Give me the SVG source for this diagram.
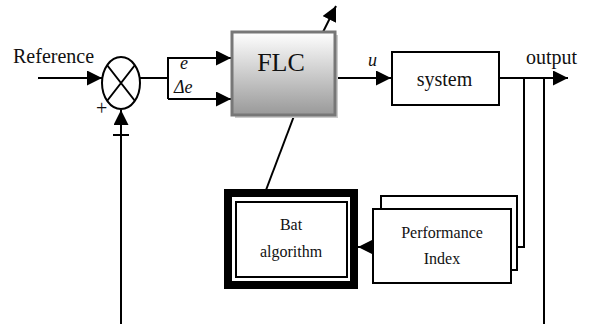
<svg xmlns="http://www.w3.org/2000/svg" width="592" height="324" viewBox="0 0 592 324">
<defs>
<linearGradient id="g" x1="0" y1="0" x2="0" y2="1">
<stop offset="0" stop-color="#ffffff"/>
<stop offset="1" stop-color="#999999"/>
</linearGradient>
<marker id="ar" viewBox="0 0 10 10" refX="10" refY="5" markerWidth="15" markerHeight="15" markerUnits="userSpaceOnUse" orient="auto">
<path d="M0,0 L10,5 L0,10 Z" fill="#000"/>
</marker>
</defs>
<style>
text{font-family:"Liberation Serif","Times New Roman",serif;fill:#111}
.t{font-size:20px}
.s{font-size:16px}
.m{font-size:18px;font-style:italic}
.c{fill:none;stroke:#000;stroke-width:2}
</style>
<rect width="592" height="324" fill="#fff"/>
<g id="connectors">
<path class="c" d="M38,78 H102" marker-end="url(#ar)"/>
<path class="c" d="M140,78 H169" stroke-width="3"/>
<path class="c" d="M168,99 V58 H231" marker-end="url(#ar)"/>
<path class="c" d="M168,99 H231" marker-end="url(#ar)"/>
<path class="c" d="M121,324 V110" marker-end="url(#ar)"/>
<path class="c" d="M113,135 H129"/>
<path class="c" d="M323,32 L336,6" marker-end="url(#ar)"/>
<path class="c" d="M294,116 L266,190"/>
<path class="c" d="M336,78 H391" marker-end="url(#ar)"/>
<path class="c" d="M499,78 H568" marker-end="url(#ar)"/>
<path class="c" d="M524,78 V247 H500" stroke-width="3" marker-end="url(#ar)"/>
<path class="c" d="M544,78 V324"/>
<path class="c" d="M373,247 H358" marker-end="url(#ar)"/>
</g>
<g id="sum">
<ellipse cx="121" cy="83" rx="19" ry="26" fill="#fff" stroke="#000" stroke-width="2"/>
<path d="M107,65 L135,101 M135,65 L107,101" stroke="#000" stroke-width="2"/>
<text x="96" y="115" class="t">+</text>
</g>
<g id="labels">
<text x="13" y="63" class="t">Reference</text>
<text x="180" y="69" class="m">e</text>
<text x="174" y="93" class="m">Δe</text>
<text x="368" y="66" class="m">u</text>
<text x="526" y="64" class="t">output</text>
</g>
<g id="flc">
<rect x="235" y="35" width="103" height="83" fill="#ccc"/>
<rect x="232" y="32" width="103" height="83" fill="url(#g)" stroke="#777" stroke-width="3"/>
<text x="281" y="71" text-anchor="middle" style="font-size:26px">FLC</text>
</g>
<g id="system">
<rect x="392" y="52" width="107" height="53" fill="#fff" stroke="#000" stroke-width="2"/>
<text x="444.5" y="86" class="t" text-anchor="middle">system</text>
</g>
<g id="performance">
<rect x="381" y="196" width="136" height="74" fill="#fff" stroke="#000" stroke-width="2"/>
<rect x="373" y="209" width="138" height="74" fill="#fff" stroke="#000" stroke-width="2"/>
<text x="442" y="238" class="s" text-anchor="middle">Performance</text>
<text x="442" y="264" class="s" text-anchor="middle">Index</text>
</g>
<g id="bat">
<rect x="228" y="193" width="126" height="92" fill="#fff" stroke="#000" stroke-width="8"/>
<rect x="236" y="202" width="111" height="75" fill="#fff" stroke="#000" stroke-width="2"/>
<text x="291" y="230" class="s" text-anchor="middle">Bat</text>
<text x="291" y="257" class="s" text-anchor="middle">algorithm</text>
</g>
</svg>
